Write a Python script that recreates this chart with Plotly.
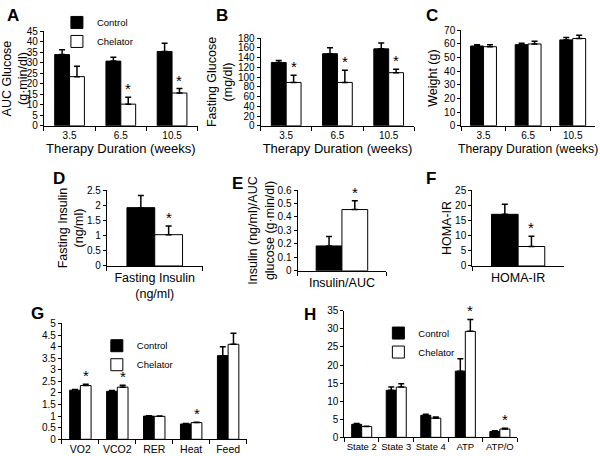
import plotly.graph_objects as go

# ---------------- data ----------------
weeks = ["3.5", "6.5", "10.5"]

auc_ctrl = [33.9, 30.8, 35.4]
auc_ctrl_err = [2.3, 1.9, 3.9]
auc_chel = [23.4, 10.3, 15.6]
auc_chel_err = [5.0, 3.3, 2.1]
auc_sig = [False, True, True]

fg_ctrl = [130, 148, 158]
fg_ctrl_err = [4, 12, 12]
fg_chel = [89, 89, 109]
fg_chel_err = [15, 25, 7]
fg_sig = [True, True, True]

wt_ctrl = [58.5, 59.5, 63.0]
wt_ctrl_err = [1.0, 1.0, 1.7]
wt_chel = [58.0, 60.0, 64.0]
wt_chel_err = [1.5, 2.0, 2.4]
wt_sig = [False, False, False]

ins_cat = ["Fasting Insulin<br>(ng/ml)"]
ins_ctrl = [1.92]
ins_ctrl_err = [0.40]
ins_chel = [1.03]
ins_chel_err = [0.29]
ins_sig = [True]

ratio_cat = ["Insulin/AUC"]
ratio_ctrl = [0.185]
ratio_ctrl_err = [0.07]
ratio_chel = [0.455]
ratio_chel_err = [0.065]
ratio_sig = [True]

homa_cat = ["HOMA-IR"]
homa_ctrl = [17.0]
homa_ctrl_err = [3.3]
homa_chel = [6.4]
homa_chel_err = [3.4]
homa_sig = [True]

met_cat = ["VO2", "VCO2", "RER", "Heat", "Feed"]
met_ctrl = [2.12, 2.07, 1.00, 0.66, 3.61]
met_ctrl_err = [0.03, 0.03, 0.02, 0.02, 0.38]
met_chel = [2.32, 2.25, 0.99, 0.72, 4.10]
met_chel_err = [0.05, 0.08, 0.01, 0.02, 0.48]
met_sig = [True, True, False, True, False]

mito_cat = ["State 2", "State 3", "State 4", "ATP", "ATP/O"]
mito_ctrl = [3.6, 13.0, 6.1, 18.3, 1.6]
mito_ctrl_err = [0.2, 0.9, 0.3, 3.4, 0.2]
mito_chel = [3.0, 13.9, 5.3, 29.3, 2.3]
mito_chel_err = [0.1, 0.9, 0.3, 3.3, 0.2]
mito_sig = [False, False, False, True, True]

# ---------------- style ----------------
FONT = "Liberation Sans, Arial, sans-serif"
W, H = 600, 456
BARGAP = 0.42


def px_y(top, bottom):
    return [1 - bottom / H, 1 - top / H]


panels = [
    dict(cats=weeks, c=auc_ctrl, ce=auc_ctrl_err, h=auc_chel, he=auc_chel_err, sig=auc_sig,
         xd=(43, 197), yd=(26, 123), yr=45, dt=5, yt="AUC Glucose<br>(g·min/dl)", ys=2,
         xt="Therapy Duration (weeks)", xts=13, leg="legend", xfs=10),
    dict(cats=weeks, c=fg_ctrl, ce=fg_ctrl_err, h=fg_chel, he=fg_chel_err, sig=fg_sig,
         xd=(260, 414), yd=(33, 123), yr=180, dt=20, yt="Fasting Glucose<br>(mg/dl)", ys=2,
         xt="Therapy Duration (weeks)", xts=13, leg=None, xfs=10),
    dict(cats=weeks, c=wt_ctrl, ce=wt_ctrl_err, h=wt_chel, he=wt_chel_err, sig=wt_sig,
         xd=(461, 595), yd=(25, 123), yr=70, dt=10, yt="Weight (g)", ys=3,
         xt="Therapy Duration (weeks)", xts=12.2, leg=None, xfs=10),
    dict(cats=ins_cat, c=ins_ctrl, ce=ins_ctrl_err, h=ins_chel, he=ins_chel_err, sig=ins_sig,
         xd=(106, 202), yd=(189, 267), yr=2.5, dt=0.5, yt="Fasting Insulin<br>(ng/ml)", ys=0,
         xt=None, xts=13, leg=None, xfs=12.5),
    dict(cats=ratio_cat, c=ratio_ctrl, ce=ratio_ctrl_err, h=ratio_chel, he=ratio_chel_err, sig=ratio_sig,
         xd=(297, 386), yd=(189, 272), yr=0.6, dt=0.1, yt="Insulin (ng/ml)/AUC<br>glucose (g·min/dl)", ys=0,
         xt=None, xts=13, leg=None, xfs=12.5),
    dict(cats=homa_cat, c=homa_ctrl, ce=homa_ctrl_err, h=homa_chel, he=homa_chel_err, sig=homa_sig,
         xd=(472, 564), yd=(189, 267), yr=25, dt=5, yt="HOMA-IR", ys=0,
         xt=None, xts=13, leg=None, xfs=12.5),
    dict(cats=met_cat, c=met_ctrl, ce=met_ctrl_err, h=met_chel, he=met_chel_err, sig=met_sig,
         xd=(61, 246), yd=(326, 445), yr=5, dt=0.5, yt=None, ys=0,
         xt=None, xts=13, leg="legend2", xfs=10.5),
    dict(cats=mito_cat, c=mito_ctrl, ce=mito_ctrl_err, h=mito_chel, he=mito_chel_err, sig=mito_sig,
         xd=(344, 517), yd=(313, 443), yr=35, dt=5, yt=None, ys=0,
         xt=None, xts=13, leg="legend3", xfs=9.5),
]

letters = [("A", 12, 10), ("B", 221, 10), ("C", 432, 10), ("D", 58, 177),
           ("E", 237, 182), ("F", 431, 177), ("G", 37, 316), ("H", 310, 317)]

fig = go.Figure()
annotations = []
half = (1 - BARGAP) / 4  # centre offset of each bar within its category

for k, p in enumerate(panels):
    n = "" if k == 0 else str(k + 1)
    xa, ya = "x" + n, "y" + n
    for name, vals, errs, fill in [("Control", p["c"], p["ce"], "black"),
                                   ("Chelator", p["h"], p["he"], "white")]:
        fig.add_trace(go.Bar(
            x=p["cats"], y=vals, name=name, xaxis=xa, yaxis=ya,
            marker=dict(color=fill, line=dict(color="black", width=1)),
            error_y=dict(type="data", array=errs, arrayminus=[0] * len(errs),
                         symmetric=False, color="black", thickness=1.5, width=3),
            showlegend=p["leg"] is not None,
            legend=p["leg"] if p["leg"] else "legend",
            offsetgroup=name,
        ))
    for i, s in enumerate(p["sig"]):
        if s:
            annotations.append(dict(
                x=i + half, y=p["h"][i] + p["he"][i], xref=xa, yref=ya,
                text="*", showarrow=False, yanchor="bottom", yshift=-2,
                font=dict(size=15, color="black", family=FONT)))
    xkey = "xaxis" + n
    ykey = "yaxis" + n
    fig.layout[xkey] = dict(
        domain=[p["xd"][0] / W, p["xd"][1] / W], anchor=ya, type="category",
        showline=True, linecolor="black", linewidth=1, ticks="outside",
        tickson="boundaries", ticklen=4, tickcolor="black", tickangle=0,
        tickfont=dict(size=p["xfs"], color="black", family=FONT),
        showgrid=False, zeroline=False, fixedrange=True,
        title=dict(text=p["xt"], font=dict(size=p["xts"], color="black", family=FONT),
                   standoff=4) if p["xt"] else None,
    )
    fig.layout[ykey] = dict(
        domain=px_y(*p["yd"]), anchor=xa, range=[0, p["yr"]], dtick=p["dt"],
        showline=True, linecolor="black", linewidth=1, ticks="outside",
        ticklen=3, tickcolor="black",
        tickfont=dict(size=10, color="black", family=FONT),
        showgrid=False, zeroline=False, fixedrange=True,
        title=dict(text=p["yt"], font=dict(size=12.5, color="black", family=FONT),
                   standoff=p["ys"]) if p["yt"] else None,
    )

for t, x, y in letters:
    annotations.append(dict(x=x / W, y=1 - y / H, xref="paper", yref="paper",
                            text="<b>%s</b>" % t, showarrow=False,
                            xanchor="center", yanchor="middle",
                            font=dict(size=17, color="black", family=FONT)))

leg_common = dict(bgcolor="rgba(0,0,0,0)", font=dict(size=9.5, color="black", family=FONT),
                  tracegroupgap=0, itemwidth=30, xanchor="left", yanchor="top",
                  orientation="v")

fig.update_layout(
    width=W, height=H, margin=dict(l=0, r=0, t=0, b=0),
    paper_bgcolor="white", plot_bgcolor="white",
    barmode="group", bargap=BARGAP, bargroupgap=0,
    font=dict(family=FONT, color="black"),
    annotations=annotations,
    legend=dict(x=56 / W, y=1 - 2 / H, **leg_common),
    legend2=dict(x=96 / W, y=1 - 334 / H, **leg_common),
    legend3=dict(x=378 / W, y=1 - 321 / H, **leg_common),
)

fig.write_html("out.html", config={"displayModeBar": False},
               post_script="document.body.style.margin='0';")
